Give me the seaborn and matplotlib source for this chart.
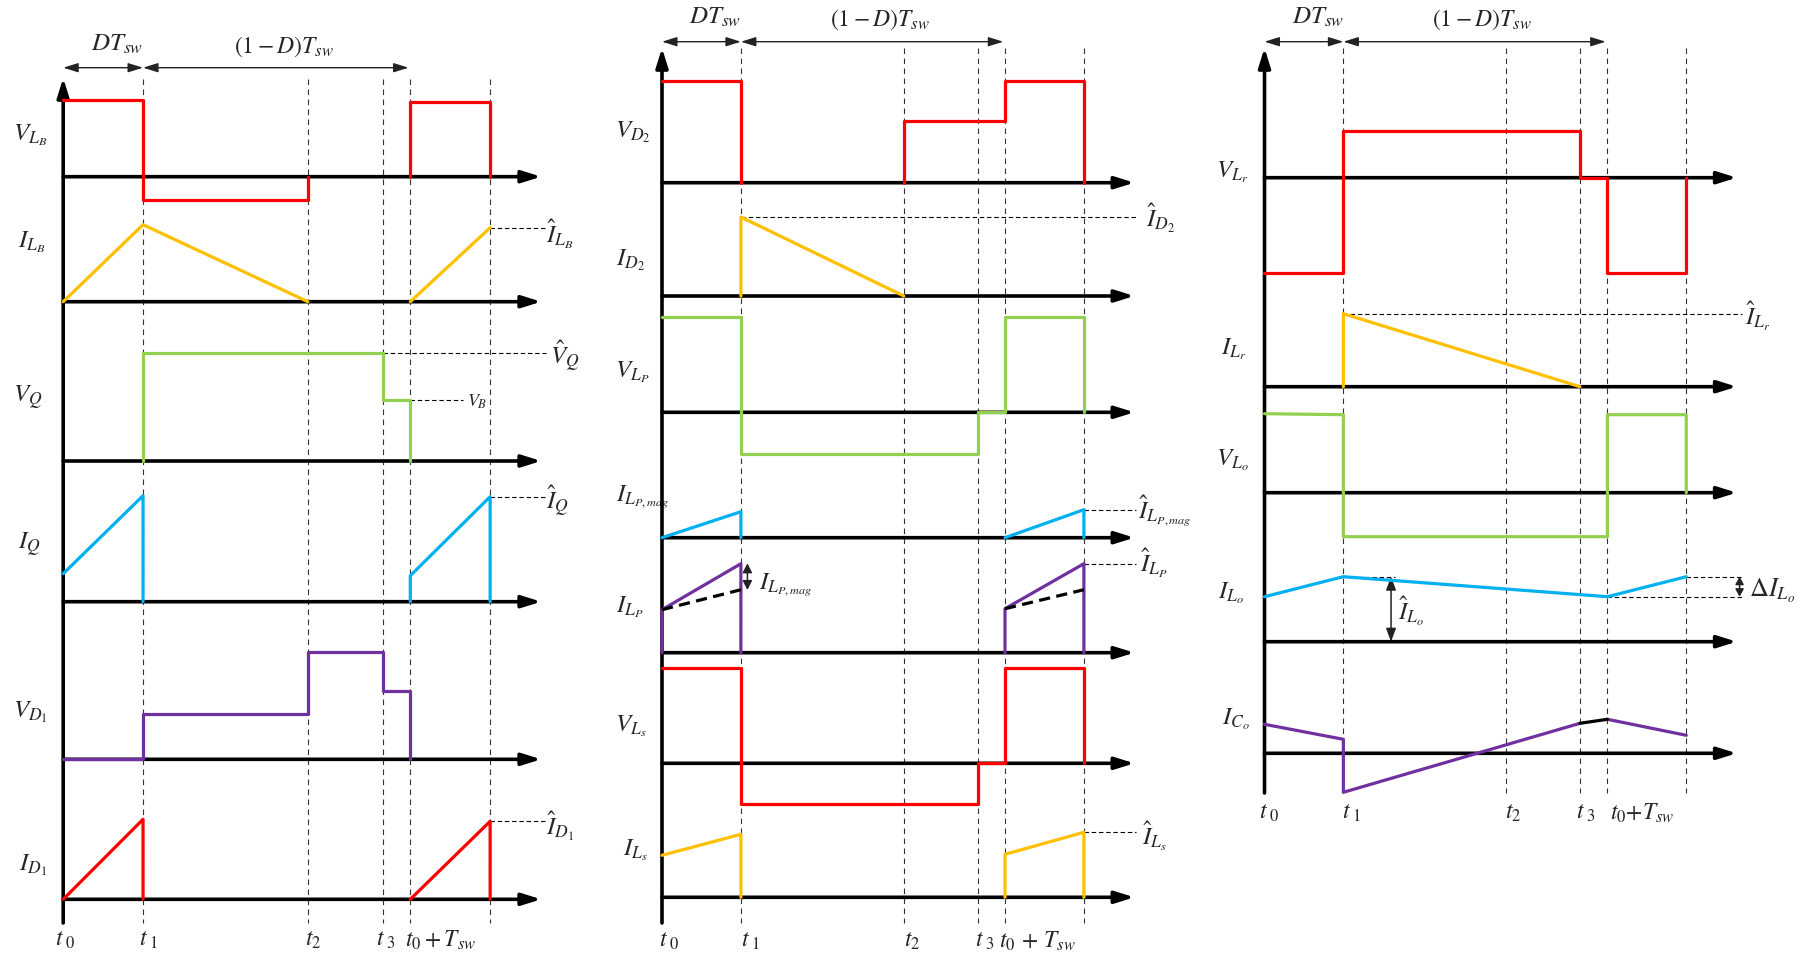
import numpy as np
import pandas as pd
import matplotlib
matplotlib.use("Agg")
import matplotlib.pyplot as plt
import seaborn as sns

sns.set_theme(style="white")
plt.rcParams["mathtext.fontset"] = "stix"
plt.rcParams["font.family"] = ["STIXGeneral", "DejaVu Serif"]

RED, ORANGE, GREEN, BLUE, PURPLE = "#FF0000", "#FFC000", "#92D050", "#00B0F0", "#7030A0"

# ── switching instants, as a fraction of T_sw (t0 = 0) ─────────
t0, t1, t2, t3, ts, te = 0.0, 0.23, 0.705, 0.92, 1.0, 1.23
t_marks = [t1, t2, t3, ts, te]

# ── waveforms: segments of (times, levels); levels in a.u. ─────
# panel 1
v_LB = [([t0, t1, t1, t2, t2], [77, 77, -23, -23, 0]), ([ts, ts, te, te], [0, 75, 75, 0])]
i_LB = [([t0, t1, t2], [0, 77, 0]), ([ts, te], [0, 74])]
v_Q  = [([t1, t1, t3, t3, ts, ts], [0, 108, 108, 61, 61, 0])]
i_Q  = [([t0, t1, t1], [28, 106, 0]), ([ts, ts, te, te], [0, 26, 105, 0])]
v_D1 = [([t0, t1, t1, t2, t2, t3, t3, ts, ts], [0, 0, 45, 45, 107, 107, 68, 68, 0])]
i_D1 = [([t0, t1, t1], [0, 80, 0]), ([ts, te, te], [0, 78, 0])]
# panel 2
v_D2    = [([t0, t1, t1], [102, 102, 0]), ([t2, t2, ts, ts, te, te], [0, 62, 62, 102, 102, 0])]
i_D2    = [([t1, t1, t2], [0, 79, 0])]
v_Lp    = [([t0, t1, t1, t3, t3, ts, ts, te, te], [95, 95, -42, -42, 0, 0, 95, 95, 0])]
i_Lpmag = [([t0, t1, t1], [0, 26, 0]), ([ts, te, te], [0, 28, 0])]
i_Lp    = [([t0, t0, t1, t1], [0, 43, 89, 0]), ([ts, ts, te, te], [0, 44, 89, 0])]
i_Lp_m  = [([t0, t1], [43, 63]), ([ts, te], [44, 63])]
v_Ls    = [([t0, t1, t1, t3, t3, ts, ts, te, te], [95, 95, -41, -41, 0, 0, 95, 95, 0])]
i_Ls    = [([t0, t1, t1], [42, 63, 0]), ([ts, ts, te, te], [0, 43, 65, 0])]
# panel 3
v_Lr   = [([t0, t1, t1, t3, t3, ts, ts, te, te], [-95, -95, 47, 47, 0, 0, -95, -95, 0])]
i_Lr   = [([t1, t1, t3], [0, 73, 0])]
v_Lo   = [([t0, t1, t1, ts, ts, te, te], [79, 78, -44, -44, 78, 78, 0])]
i_Lo   = [([t0, t1, ts, te], [45, 65, 45, 65])]
i_Co   = [([t0, t1, t1, t3], [29, 14, -39, 30]), ([ts, te], [34, 18])]
i_Co_k = [([t3, ts], [30, 34])]

# ── layout (pixels of the 1807x956 canvas) ─────────────────────
W, H = 1807, 956
X0   = [63.2, 662.0, 1264.5]      # t0 position of each panel
SPAN = [347.1, 343.0, 342.9]      # pixels per T_sw
Y_TOP, Y_BOT = [78, 48, 48], [923, 923, 793]
DASH_TOP = [79, 48, 48]
T_ARROW = 1.377

# (panel, waveform, baseline, colour, style)
traces = [
    (0, v_LB, 176.7, RED, "-"), (0, i_LB, 301.7, ORANGE, "-"), (0, v_Q, 461, GREEN, "-"),
    (0, i_Q, 601.7, BLUE, "-"), (0, v_D1, 759.3, PURPLE, "-"), (0, i_D1, 899.3, RED, "-"),
    (1, v_D2, 182.7, RED, "-"), (1, i_D2, 296, ORANGE, "-"), (1, v_Lp, 412.3, GREEN, "-"),
    (1, i_Lpmag, 537.7, BLUE, "-"), (1, i_Lp, 652.7, PURPLE, "-"), (1, i_Lp_m, 652.7, "black", "--"),
    (1, v_Ls, 763.3, RED, "-"), (1, i_Ls, 897.3, ORANGE, "-"),
    (2, v_Lr, 177.7, RED, "-"), (2, i_Lr, 386.7, ORANGE, "-"), (2, v_Lo, 492.7, GREEN, "-"),
    (2, i_Lo, 641.7, BLUE, "-"), (2, i_Co, 753.3, PURPLE, "-"), (2, i_Co_k, 753.3, "black", "-"),
]

# dashed guides: (panel, t start, baseline, level, x end px)
guides = [
    (0, te, 301.7, 74, 546), (0, t3, 461, 108, 546), (0, ts, 461, 61, 463),
    (0, te, 601.7, 105, 546), (0, te, 899.3, 78, 546),
    (1, t1, 296, 79, 1138), (1, te, 537.7, 28, 1136), (1, te, 652.7, 89, 1136), (1, te, 897.3, 65, 1136),
    (2, t1, 386.7, 73, 1742), (2, t1, 641.7, 65, 1395), (2, te, 641.7, 65, 1742), (2, ts, 641.7, 45, 1742),
]

# double arrows: (panel, t, y top, y bottom, head length, head width)
dbl_arrows = [(1, 0.249, 563.3, 590, 0.55, 0.28), (2, 0.369, 576.7, 641.7, 0.8, 0.3),
              (2, 1.3855, 576.7, 596.7, 0.45, 0.25)]

# left labels (text, x left, y centre)
left_labels = [
    (r"$V_{L_B}$", 13, 135), (r"$I_{L_B}$", 18, 242), (r"$V_Q$", 13, 398), (r"$I_Q$", 18, 545),
    (r"$V_{D_1}$", 13, 712), (r"$I_{D_1}$", 19, 865),
    (r"$V_{D_2}$", 615, 132), (r"$I_{D_2}$", 616, 260), (r"$V_{L_P}$", 615, 372),
    (r"$I_{L_{P,mag}}$", 616, 497), (r"$I_{L_P}$", 616, 607), (r"$V_{L_s}$", 615, 726), (r"$I_{L_s}$", 623, 850),
    (r"$V_{L_r}$", 1216, 172), (r"$I_{L_r}$", 1221, 349), (r"$V_{L_o}$", 1216, 460),
    (r"$I_{L_o}$", 1218, 593), (r"$I_{C_o}$", 1222, 719),
]
peak_labels = [
    (r"$\hat{I}_{L_B}$", 546, 234, 18), (r"$\hat{V}_Q$", 550, 357, 18), (r"$V_B$", 467, 402, 13),
    (r"$\hat{I}_Q$", 546, 502, 18), (r"$\hat{I}_{D_1}$", 546, 826, 18),
    (r"$\hat{I}_{D_2}$", 1146, 218, 18), (r"$\hat{I}_{L_{P,mag}}$", 1138, 511, 18),
    (r"$I_{L_{P,mag}}$", 759, 585, 18), (r"$\hat{I}_{L_P}$", 1140, 563, 18), (r"$\hat{I}_{L_s}$", 1142, 836, 18),
    (r"$\hat{I}_{L_r}$", 1745, 316, 18), (r"$\hat{I}_{L_o}$", 1398, 611, 18), (r"$\Delta I_{L_o}$", 1749, 591, 19),
]
# time labels: (text, x px, y px, ha)
time_labels = [
    (r"$t_{\ 0}$", 65, 940, "center"), (r"$t_{\ 1}$", 149, 940, "center"), (r"$t_{2}$", 313, 940, "center"),
    (r"$t_{\ 3}$", 386, 940, "center"), (r"$t_0+T_{sw}$", 405, 940, "left"),
    (r"$t_{\ 0}$", 669, 941, "center"), (r"$t_{\ 1}$", 751, 941, "center"), (r"$t_{2}$", 912, 941, "center"),
    (r"$t_{\ 3}$", 985, 941, "center"), (r"$t_0\,+\,T_{sw}$", 999, 941, "left"),
    (r"$t_{\ 0}$", 1269, 813, "center"), (r"$t_{\ 1}$", 1352, 813, "center"), (r"$t_{2}$", 1513, 813, "center"),
    (r"$t_{\ 3}$", 1586, 813, "center"), (r"$t_0{+}T_{sw}$", 1610, 813, "left"),
]
dt_arrow_y = [67.7, 41.7, 41.7]
dt_text = [((117, 45), (284, 47)), ((715, 18), (880, 20)), ((1318, 18), (1482, 20))]

# ── figure ─────────────────────────────────────────────────────
fig = plt.figure(figsize=(W / 100, H / 100), dpi=100)
canvas = fig.add_axes([0, 0, 1, 1])
canvas.set_facecolor("none")

axes = []
for p in range(3):
    ax = fig.add_axes([0, 0, 1, 1])
    ax.set_facecolor("none")
    axes.append(ax)


def axis_arrow(ax, xy_from, xy_to):
    ax.annotate("", xy=xy_to, xytext=xy_from, zorder=2,
                arrowprops=dict(arrowstyle="-|>,head_length=1.15,head_width=0.36",
                                mutation_scale=10, lw=2.6, color="black",
                                shrinkA=0, shrinkB=0))


def dbl_arrow(ax, xy_from, xy_to, lw=1.0, hl=0.9, hw=0.28):
    ax.annotate("", xy=xy_to, xytext=xy_from, zorder=2,
                arrowprops=dict(arrowstyle=f"<|-|>,head_length={hl},head_width={hw}",
                                mutation_scale=10, lw=lw, color="#222222",
                                shrinkA=0, shrinkB=0))


# dashed time markers, axes and period arrows
for p, ax in enumerate(axes):
    ax.vlines(t_marks, DASH_TOP[p], Y_BOT[p], colors="#333333", lw=0.8,
              linestyles=(0, (5, 4)), zorder=1)
    axis_arrow(ax, (0, Y_BOT[p]), (0, Y_TOP[p]))
    dbl_arrow(ax, (t0, dt_arrow_y[p]), (t1, dt_arrow_y[p]))
    dbl_arrow(ax, (t1, dt_arrow_y[p]), (0.995, dt_arrow_y[p]))

# waveforms
for p, segs, base, color, ls in traces:
    rows = [(k, tt, base - vv) for k, (tt_, vv_) in enumerate(segs) for tt, vv in zip(tt_, vv_)]
    df = pd.DataFrame(rows, columns=["seg", "t", "y"])
    style = (0, (3.5, 2)) if ls == "--" else "-"
    sns.lineplot(data=df, x="t", y="y", units="seg", estimator=None, sort=False,
                 color=color, lw=2.3, linestyle=style, zorder=3, ax=axes[p], legend=False)

# horizontal axes of every trace
for p, segs, base, color, ls in traces:
    if color == "black":
        continue
    axis_arrow(axes[p], (0, base), (T_ARROW, base))

# dashed guides to peak labels
for p, t_start, base, level, x_end in guides:
    axes[p].hlines(base - level, t_start, (x_end - X0[p]) / SPAN[p], colors="black",
                   lw=0.8, linestyles=(0, (4, 2.5)), zorder=1)

for p, tt, ya, yb, hl, hw in dbl_arrows:
    dbl_arrow(axes[p], (tt, yb), (tt, ya), lw=1.1, hl=hl, hw=hw)

for p, ax in enumerate(axes):
    ax.set_xlim((0 - X0[p]) / SPAN[p], (W - X0[p]) / SPAN[p])
    ax.set_ylim(H, 0)
    ax.axis("off")

# text
for s, x, y in left_labels:
    canvas.text(x, y, s, fontsize=18, ha="left", va="center")
for s, x, y, fs in peak_labels:
    canvas.text(x, y, s, fontsize=fs, ha="left", va="center")
for s, x, y, ha in time_labels:
    canvas.text(x, y, s, fontsize=17, ha=ha, va="center")
for (a, b) in dt_text:
    canvas.text(a[0], a[1], r"$DT_{sw}$", fontsize=18, ha="center", va="center")
    canvas.text(b[0], b[1], r"$(1-D)T_{sw}$", fontsize=17, ha="center", va="center")

canvas.set_xlim(0, W)
canvas.set_ylim(H, 0)
canvas.axis("off")

fig.savefig("out.png", dpi=100, facecolor="white")
